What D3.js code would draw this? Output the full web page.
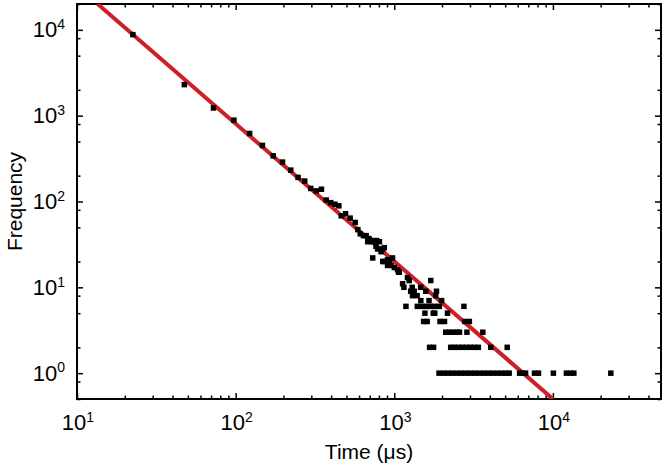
<!DOCTYPE html>
<html><head><meta charset="utf-8">
<script src="https://cdn.jsdelivr.net/npm/d3@7"></script>
<style>body{margin:0;background:#fff}svg{display:block}</style>
</head><body>
<svg id="c" width="664" height="468"></svg>
<script>
// ---- data ----
const times = [
  22.5, 47.5, 72.5, 97.5, 122.5, 147.5, 172.5, 197.5, 222.5, 247.5,
  272.5, 297.5, 322.5, 347.5, 372.5, 397.5, 422.5, 447.5, 463, 493,
  527, 567, 589, 610, 639, 665, 690, 697, 680, 724,
  749, 775, 806, 767, 786, 846, 865, 826, 731, 846,
  907, 930, 865, 953, 907, 975, 1000, 1049, 1064, 1075,
  1128, 1150, 1211, 1242, 1297, 1466, 1269, 1335, 1580, 1845,
  1303, 1393, 1824, 1698, 1470, 1656, 1987,
  1184, 1397, 1497, 1597, 1697, 1797, 1922, 2748,
  1560, 1760, 1800, 2165,
  1531, 1611, 1943, 2073, 2787, 2973,
  2110, 2225, 2350, 2480, 2577, 2870, 3615,
  1670, 1769, 2268, 2395, 2537, 2688, 2848, 3017, 3196, 3386, 4056, 5150,
  1915, 2043, 2181, 2327, 2483, 2650, 2828, 3017, 3220, 3436, 3667, 3913, 4175,
  4456, 4755, 5038, 5298, 6166, 6440, 6724, 7656, 8110, 10070, 12160, 12870, 13550, 23170
];
const counts = [
  8800, 2300, 1230, 886, 620, 450, 340, 288, 232, 191,
  173, 142, 133, 139, 104, 97, 93, 89, 68, 72,
  64, 57, 47, 42, 40, 40, 37, 36, 34, 34,
  35, 35, 34, 30, 28, 28, 29, 26, 22, 20,
  21, 20, 20, 18, 18, 22, 17, 16, 15, 15,
  11, 10, 13, 12, 10, 10, 9, 9, 9, 9,
  8, 8, 8, 12, 7, 7, 7,
  6, 6, 6, 6, 6, 6, 6, 6,
  5, 5, 5, 5,
  4, 4, 4, 4, 4, 4,
  3, 3, 3, 3, 3, 3, 3,
  2, 2, 2, 2, 2, 2, 2, 2, 2, 2, 2, 2,
  1, 1, 1, 1, 1, 1, 1, 1, 1, 1, 1, 1, 1,
  1, 1, 1, 1, 1, 1, 1, 1, 1, 1, 1, 1, 1, 1
];
const fitTimes = [13.5, 10000];
const fitCounts = [20000, 0.5];
const xTickExps = [1, 2, 3, 4];
const yTickExps = [0, 1, 2, 3, 4];
const xMinorMults = [2, 3, 4, 5, 6, 7, 8, 9];
const yMinorMults = [2, 5, 8];
const xTitle = "Time (μs)";
const yTitle = "Frequency";

// ---- layout ----
const L = 77, R = 661, T = 4, B = 399;
const FONT = "'Liberation Sans', Arial, Helvetica, sans-serif";
const svg = d3.select("#c");
const x = d3.scaleLog().domain([10, 4.8e4]).range([L, R]);
const y = d3.scaleLog().domain([0.5, 2e4]).range([B, T]);

function inDom(v, s) { const d = s.domain(); return v >= d[0] * 0.9999 && v <= d[1] * 1.0001; }
const xMajor = xTickExps.map(e => Math.pow(10, e));
const yMajor = yTickExps.map(e => Math.pow(10, e));
const xMinor = [];
for (let e = 1; e <= 4; e++) xMinorMults.forEach(m => { const v = m * Math.pow(10, e); if (inDom(v, x)) xMinor.push(v); });
const yMinor = [];
for (let e = -1; e <= 4; e++) yMinorMults.forEach(m => { const v = m * Math.pow(10, e); if (inDom(v, y)) yMinor.push(v); });

// clip
svg.append("defs").append("clipPath").attr("id", "clip")
  .append("rect").attr("x", L).attr("y", T).attr("width", R - L).attr("height", B - T);

// axes ticks (inward)
function addAxis(gen, tx, ty, vals, size) {
  const g = svg.append("g").attr("transform", `translate(${tx},${ty})`)
    .call(gen.tickValues(vals).tickSize(-size).tickFormat(""));
  g.select(".domain").remove();
  g.selectAll(".tick line").attr("stroke", "#000").attr("stroke-width", 1.5);
}
addAxis(d3.axisBottom(x), 0, B, xMajor, 6);
addAxis(d3.axisBottom(x), 0, B, xMinor, 3.5);
addAxis(d3.axisTop(x), 0, T, xMajor, 6);
addAxis(d3.axisTop(x), 0, T, xMinor, 3.5);
addAxis(d3.axisLeft(y), L, 0, yMajor, 6);
addAxis(d3.axisLeft(y), L, 0, yMinor, 3.5);
addAxis(d3.axisRight(y), R, 0, yMajor, 6);
addAxis(d3.axisRight(y), R, 0, yMinor, 3.5);

// frame
svg.append("rect").attr("x", L).attr("y", T).attr("width", R - L).attr("height", B - T)
  .attr("fill", "none").attr("stroke", "#000").attr("stroke-width", 2);

// fit line
const fit = fitTimes.map((t, i) => [t, fitCounts[i]]);
svg.append("path").datum(fit).attr("clip-path", "url(#clip)")
  .attr("d", d3.line().x(d => x(d[0])).y(d => y(d[1])))
  .attr("fill", "none").attr("stroke", "#cc2027").attr("stroke-width", 4);

// points
const S = 5.5;
svg.append("g").attr("clip-path", "url(#clip)").selectAll("rect")
  .data(times.map((t, i) => [t, counts[i]])).join("rect")
  .attr("x", d => x(d[0]) - S / 2).attr("y", d => y(d[1]) - S / 2)
  .attr("width", S).attr("height", S).attr("fill", "#000");

// tick labels with superscripts
function label(px, py, exp, anchor) {
  const t = svg.append("text").attr("x", px).attr("y", py).attr("text-anchor", anchor)
    .attr("font-family", FONT).attr("font-size", 22).attr("fill", "#000");
  t.append("tspan").text("10");
  t.append("tspan").attr("font-size", 14).attr("dy", -8.3).text(exp);
}
xTickExps.forEach(e => label(x(Math.pow(10, e)) + 1, 430, e, "middle"));
yTickExps.forEach(e => label(65, y(Math.pow(10, e)) + 7.6, e, "end"));

// titles
svg.append("text").attr("x", (L + R) / 2).attr("y", 459).attr("text-anchor", "middle")
  .attr("font-family", FONT).attr("font-size", 21).attr("fill", "#000").text(xTitle);
svg.append("text").attr("transform", `translate(21.5,${(T + B) / 2}) rotate(-90)`)
  .attr("text-anchor", "middle")
  .attr("font-family", FONT).attr("font-size", 21).attr("fill", "#000").text(yTitle);
</script>
</body></html>
